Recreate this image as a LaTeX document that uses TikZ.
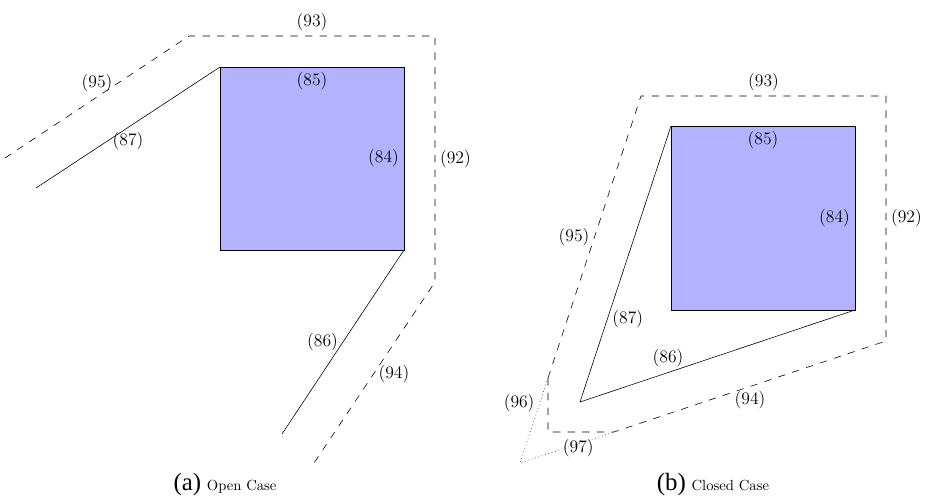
\documentclass[tikz,border=0pt]{standalone}
\usepackage{amsmath,amssymb}
\usepackage{xcolor}
\usepackage{fontspec}
\newfontfamily\capfont{Liberation Serif}
\begin{document}
\begin{tikzpicture}[x=0.024cm,y=-0.024cm,
  every node/.style={font=\fontsize{12}{14}\selectfont},
  wall/.style={draw,fill=blue!30},
  cut/.style={dash pattern=on 5pt off 5pt}]
\useasboundingbox (0,0) rectangle (935,498);
% (a) open case
\coordinate (s1) at (220,67);
\coordinate (s2) at (404,67);
\coordinate (s3) at (404,250);
\coordinate (s4) at (220,250);
\coordinate (e1) at (36,188);
\coordinate (e2) at (282,434);
\coordinate (o1) at (5,158);
\coordinate (o2) at (189,36);
\coordinate (o3) at (435,36);
\coordinate (o4) at (435,282);
\coordinate (o5) at (312,466);
\draw[wall] (s1) -- (s2) node[midway,below]{(85)} -- (s3) node[midway,left]{(84)} -- (s4) -- cycle;
\draw (s1) -- (e1) node[midway,below]{(87)};
\draw (s3) -- (e2) node[midway,left]{(86)};
\draw[cut] (o1) -- (o2) node[midway,above]{(95)} -- (o3) node[midway,above]{(93)}
  -- (o4) node[midway,right]{(92)} -- (o5) node[midway,right]{(94)};
\node[anchor=base] (capa) at (225,491){{\capfont\fontsize{17}{19}\selectfont (a)} {\fontsize{10}{12}\selectfont Open Case}};
% (b) closed case
\coordinate (r1) at (671,126);
\coordinate (r2) at (855,126);
\coordinate (r3) at (855,310);
\coordinate (r4) at (671,310);
\coordinate (t) at (580,402);
\coordinate (q1) at (641,96);
\coordinate (q2) at (886,96);
\coordinate (q3) at (886,341);
\coordinate (q4) at (614,432);
\coordinate (q5) at (548,432);
\coordinate (q6) at (548,378);
\coordinate (apex) at (520,463);
\draw[wall] (r1) -- (r2) node[midway,below]{(85)} -- (r3) node[midway,left]{(84)} -- (r4) -- cycle;
\draw (r1) -- (t) node[pos=0.7,right]{(87)} -- (r3) node[pos=0.32,above]{(86)};
\draw[cut] (q6) -- (q1) node[midway,left]{(95)} -- (q2) node[midway,above]{(93)}
  -- (q3) node[midway,right]{(92)} -- (q4) node[midway,below]{(94)} -- (q5) -- (q6);
\draw[dotted] (q6) -- (apex) node[pos=0.3,left]{(96)} -- (q4) node[pos=0.62,yshift=-3pt]{(97)};
\node[anchor=base] (capb) at (713,491){{\capfont\fontsize{17}{19}\selectfont (b)} {\fontsize{10}{12}\selectfont Closed Case}};
\end{tikzpicture}
\end{document}
